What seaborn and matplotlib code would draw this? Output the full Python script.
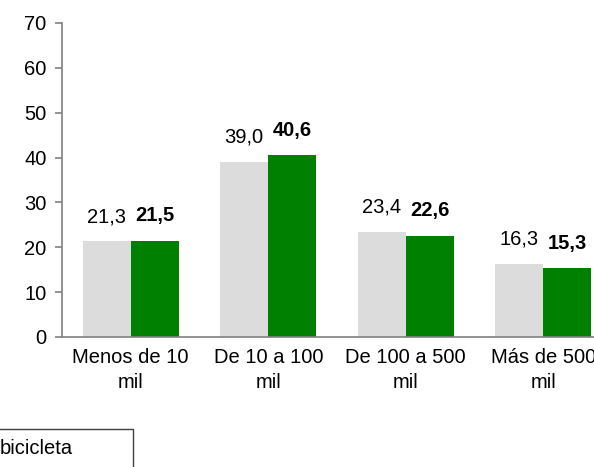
import pandas as pd
import matplotlib.pyplot as plt
from matplotlib.patches import Rectangle
import seaborn as sns

# Données
categorias = ["Menos de 10\nmil", "De 10 a 100\nmil", "De 100 a 500\nmil", "Más de 500\nmil"]
series = ["anterior", "actual"]
valores_gris = [21.3, 39.0, 23.4, 16.3]
valores_verde = [21.5, 40.6, 22.6, 15.3]
etiquetas_y = [0, 10, 20, 30, 40, 50, 60, 70]

df = pd.DataFrame({
    "categoria": categorias * 2,
    "serie": [series[0]] * 4 + [series[1]] * 4,
    "valor": valores_gris + valores_verde,
})

sns.set_style("white")
plt.rcParams["font.family"] = ["Liberation Sans", "DejaVu Sans"]
plt.rcParams["text.color"] = "black"

fs = 14.5

fig = plt.figure(figsize=(5.94, 4.67), dpi=100)
ax = fig.add_axes([62 / 594, 130 / 467, 550 / 594, 314 / 467])

sns.barplot(data=df, x="categoria", y="valor", hue="serie",
            palette=["#dcdcdc", "#008000"], width=0.7, saturation=1,
            linewidth=0, legend=False, ax=ax)

ax.set_xlim(-0.5, 3.5)
ax.set_ylim(0, 70)
ax.set_yticks(etiquetas_y)
ax.set_xlabel("")
ax.set_ylabel("")

# Etiquetas de valores
for cont, bold in zip(ax.containers, [False, True]):
    for barra in cont:
        h = barra.get_height()
        ax.annotate(f"{h:.1f}".replace(".", ","),
                    (barra.get_x() + barra.get_width() / 2, h),
                    xytext=(0, 11), textcoords="offset points",
                    ha="center", va="bottom", fontsize=fs, color="black",
                    fontweight="bold" if bold else "normal")

# Ejes
for s in ["top", "right"]:
    ax.spines[s].set_visible(False)
for s in ["left", "bottom"]:
    ax.spines[s].set_color("#808080")
    ax.spines[s].set_linewidth(1.2)

ax.set_xticks([-0.5, 0.5, 1.5, 2.5, 3.5], minor=True)
ax.tick_params(axis="x", which="major", length=0, labelsize=fs, pad=8,
               labelcolor="black")
ax.tick_params(axis="x", which="minor", length=5, color="#808080", width=1.2)
ax.tick_params(axis="y", length=5, color="#808080", labelcolor="black",
               width=1.2, labelsize=fs, pad=6, left=True)
for t in ax.get_xticklabels():
    t.set_linespacing(1.4)

# Leyenda recortada
fig.patches.append(Rectangle((-0.1, -0.1), 0.1 + 133 / 594, 0.1 + 38 / 467,
                             transform=fig.transFigure, fill=False,
                             edgecolor="#404040", linewidth=1))
fig.text(0 / 594, 19 / 467, "bicicleta", ha="left", va="center", fontsize=fs)

fig.savefig("out.png", dpi=100)
